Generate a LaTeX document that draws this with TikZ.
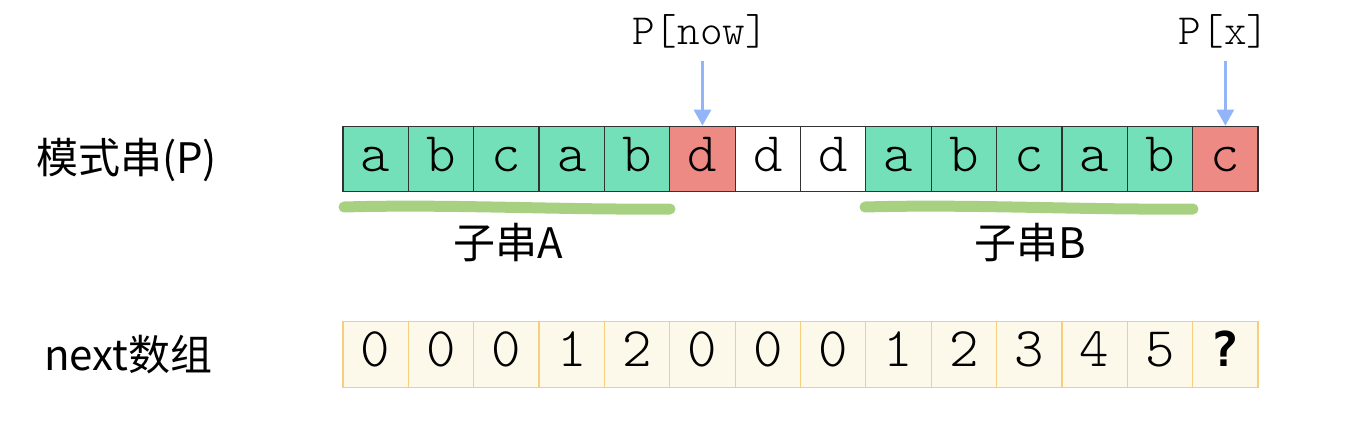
\documentclass[tikz,border=0pt]{standalone}
\usepackage{fontspec}
\newfontfamily\cjk{Noto Sans CJK SC}
\newfontfamily\mono{Latin Modern Mono Light}
\newfontfamily\monob{DejaVu Sans Mono}
\usetikzlibrary{arrows.meta}
\definecolor{cgreen}{HTML}{74E0BA}
\definecolor{cred}{HTML}{EE8A84}
\definecolor{cyfill}{HTML}{FDF9EA}
\definecolor{cyline}{HTML}{F5CF7B}
\definecolor{chl}{HTML}{A2CF7A}
\definecolor{carrow}{HTML}{94B4F8}
\begin{document}
\begin{tikzpicture}[x=1pt,y=-1pt,
  cell/.style={draw=black!80,line width=1.2pt,minimum width=65.36pt,minimum height=65.5pt,inner sep=0pt,anchor=center,text height=37pt,text depth=13pt,font=\mono\fontsize{56}{56}\selectfont},
  gcell/.style={cell,fill=cgreen},
  rcell/.style={cell,fill=cred},
  wcell/.style={cell,fill=white},
  ycell/.style={cell,draw=cyline,fill=cyfill},
  lbl/.style={font=\cjk\fontsize{42}{42}\selectfont,inner sep=0pt},
  ptr/.style={font=\mono\fontsize{43}{43}\selectfont,inner sep=0pt},
  hl/.style={draw=chl,line width=11pt,line cap=round,opacity=0.95},
  parrow/.style={draw=carrow,line width=3pt,-{Triangle[width=17pt,length=16pt]}}
]
\useasboundingbox (0,0) rectangle (1362,428);
% pattern row
\foreach \ch [count=\i from 0] in {a,b,c,a,b} {
  \node[gcell] (p\i) at ({343+65.36*(\i+0.5)},159) {\ch};
}
\node[rcell] (p5) at ({343+65.36*5.5},159) {d};
\node[wcell] (p6) at ({343+65.36*6.5},159) {d};
\node[wcell] (p7) at ({343+65.36*7.5},159) {d};
\foreach \ch [count=\i from 8] in {a,b,c,a,b} {
  \node[gcell] (p\i) at ({343+65.36*(\i+0.5)},159) {\ch};
}
\node[rcell] (p13) at ({343+65.36*13.5},159) {c};
% next row
\foreach \v [count=\i from 0] in {0,0,0,1,2,0,0,0,1,2,3,4,5} {
  \node[ycell] (n\i) at ({343+65.36*(\i+0.5)},354.5) {\v};
}
\node[ycell] (n13) at ({343+65.36*13.5},354.5) {\monob\bfseries\fontsize{48}{48}\selectfont ?};
% labels
\node[lbl,anchor=west] (lp) at (36,160) {模式串(P)};
\node[lbl,anchor=west] (ln) at (44,355) {next数组};
% highlights
\draw[hl] (344,207) .. controls (450,204) and (560,210) .. (670,209);
\draw[hl] (865,207) .. controls (970,204) and (1080,210) .. (1193,209);
\node[lbl] (sa) at (508,243) {子串A};
\node[lbl] (sb) at (1030,243) {子串B};
% pointers
\node[ptr] (pnow) at (700,31) {P[now]};
\node[ptr] (px) at (1224,31) {P[x]};
\coordinate (anow) at (p5.north |- 0,61);
\coordinate (ax) at (p13.north |- 0,61);
\draw[parrow] (anow) -- (p5.north);
\draw[parrow] (ax) -- (p13.north);
\end{tikzpicture}
\end{document}
